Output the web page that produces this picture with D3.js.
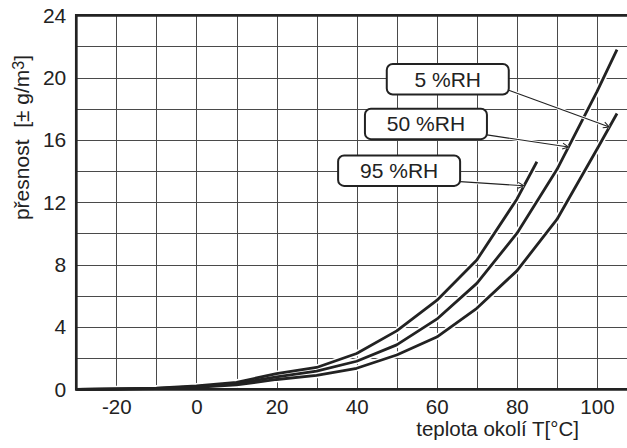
<!DOCTYPE html>
<html><head><meta charset="utf-8">
<script src="https://cdn.jsdelivr.net/npm/d3@7"></script>
<style>
html,body{margin:0;padding:0;background:#fff;}
svg{display:block;font-family:"Liberation Sans",Arial,sans-serif;}
</style></head><body>
<svg id="chart" width="627" height="448"></svg>
<script>
// ---- data ----
const temps95 = [-30,-20,-10,0,10,20,30,40,50,60,70,80,85];
const rh95    = [0,0.03,0.08,0.22,0.45,1.0,1.4,2.3,3.75,5.7,8.3,12.2,14.6];
const temps50 = [-30,-20,-10,0,10,20,30,40,50,60,70,80,90,100,105];
const rh50    = [0,0.02,0.06,0.17,0.36,0.8,1.17,1.8,2.85,4.5,6.8,10.0,14.1,19.1,21.8];
const temps5  = [-30,-20,-10,0,10,20,30,40,50,60,70,80,90,100,105];
const rh5     = [0,0.01,0.04,0.12,0.28,0.63,0.9,1.35,2.2,3.35,5.2,7.6,10.9,15.4,17.7];
const seriesNames = ["95 %RH","50 %RH","5 %RH"];
const xTicks = [-20,0,20,40,60,80,100];
const yTicks = [0,4,8,12,16,20,24];
const xGrid = [-20,-10,0,10,20,30,40,50,60,70,80,90,100];
const yGrid = [2,4,6,8,10,12,14,16,18,20,22];
// label box anchors (data coords) and pointer targets (temperature on curve)
const labelX = [50.6, 57.3, 62.75];
const labelY = [14.03, 17.03, 19.9];
const pointerX = [81.8, 92.9, 103.1];
const xTitle = "teplota okolí T[°C]";

// ---- layout ----
const svg = d3.select("#chart");
const x = d3.scaleLinear().domain([-30, 107.5]).range([76.3, 627]);
const y = d3.scaleLinear().domain([0, 24]).range([389.3, 15.3]);
const ink = "#222";

const series = [
  temps95.map((t,i)=>({t, v: rh95[i]})),
  temps50.map((t,i)=>({t, v: rh50[i]})),
  temps5.map((t,i)=>({t, v: rh5[i]}))
];

// grid
const grid = svg.append("g").attr("stroke", "#4a4a4a").attr("stroke-width", 1);
grid.selectAll("line.v").data(xGrid).join("line")
  .attr("x1", d=>Math.round(x(d))+0.5).attr("x2", d=>Math.round(x(d))+0.5)
  .attr("y1", y(24)).attr("y2", y(0));
grid.selectAll("line.h").data(yGrid).join("line")
  .attr("y1", d=>Math.round(y(d))+0.5).attr("y2", d=>Math.round(y(d))+0.5)
  .attr("x1", x(-30)).attr("x2", 627);

// curves
const line = d3.line().x(d=>x(d.t)).y(d=>y(d.v)).curve(d3.curveLinear);
svg.append("g").selectAll("path").data(series).join("path")
  .attr("d", line).attr("fill","none").attr("stroke","#fff").attr("stroke-width",6)
  .attr("stroke-linejoin","round");
svg.append("g").selectAll("path").data(series).join("path")
  .attr("d", line).attr("fill","none").attr("stroke",ink).attr("stroke-width",2.8)
  .attr("stroke-linejoin","round").attr("stroke-linecap","butt");

// interpolate on a series
function valueAt(s, t){
  for(let i=1;i<s.length;i++){
    if(t<=s[i].t){ const a=s[i-1], b=s[i]; return a.v + (b.v-a.v)*(t-a.t)/(b.t-a.t); }
  }
  return s[s.length-1].v;
}

// leader arrow marker
svg.append("defs").append("marker")
  .attr("id","arr").attr("viewBox","-7 -4 8 8").attr("refX",0).attr("refY",0)
  .attr("markerWidth",8).attr("markerHeight",8).attr("markerUnits","userSpaceOnUse")
  .attr("orient","auto")
  .append("path").attr("d","M-6,-3L0,0L-6,3").attr("fill","none").attr("stroke",ink).attr("stroke-width",1);

const boxW = 122, boxH = 30.5;
const ann = seriesNames.map((name,i)=>({
  name, cx: x(labelX[i]), cy: y(labelY[i]),
  tx: x(pointerX[i]), ty: y(valueAt(series[i], pointerX[i]))
}));

const lg = svg.append("g");
lg.selectAll("line.halo").data(ann).join("line")
  .attr("x1", d=>d.cx+boxW/2).attr("y1", d=>d.cy+11)
  .attr("x2", d=>d.tx).attr("y2", d=>d.ty)
  .attr("stroke","#fff").attr("stroke-width",3);
lg.selectAll("line.ld").data(ann).join("line")
  .attr("x1", d=>d.cx+boxW/2).attr("y1", d=>d.cy+11)
  .attr("x2", d=>d.tx).attr("y2", d=>d.ty)
  .attr("stroke",ink).attr("stroke-width",1.1).attr("marker-end","url(#arr)");

const boxes = svg.append("g").selectAll("g").data(ann).join("g")
  .attr("transform", d=>`translate(${d.cx},${d.cy})`);
boxes.append("rect").attr("x",-boxW/2).attr("y",-boxH/2).attr("width",boxW).attr("height",boxH)
  .attr("rx",6).attr("fill","#fff").attr("stroke",ink).attr("stroke-width",2);
boxes.append("text").attr("text-anchor","middle").attr("dy","0.36em")
  .attr("font-size",21).attr("fill",ink).text(d=>d.name);

// axes
const fmt = d => String(d);
const xAxis = d3.axisBottom(x).tickValues(xTicks).tickFormat(fmt).tickSize(0).tickPadding(10.5);
const gx = svg.append("g").attr("transform",`translate(0,${y(0)})`).call(xAxis);
gx.select(".domain").remove();
gx.selectAll("text").attr("font-size",20.5).attr("fill",ink).attr("font-family",null);

const yAxis = d3.axisLeft(y).tickValues(yTicks).tickFormat(fmt).tickSize(0).tickPadding(10);
const gy = svg.append("g").attr("transform",`translate(${x(-30)},0)`).call(yAxis);
gy.select(".domain").remove();
gy.selectAll("text").attr("font-size",21).attr("fill",ink).attr("font-family",null);

// frame lines
const frame = svg.append("g").attr("stroke",ink).attr("stroke-width",2.7).attr("fill","none");
frame.append("path").attr("d",`M627,${y(24)}H${x(-30)}V${y(0)}H627`).attr("stroke-linejoin","miter");

// titles
svg.append("text").attr("x",579).attr("y",436).attr("text-anchor","end")
  .attr("font-size",20.5).attr("fill",ink).text(xTitle);

const yt = svg.append("text").attr("transform","translate(28.5,137.5) rotate(-90)")
  .attr("text-anchor","middle").attr("font-size",21).attr("fill",ink)
  .style("white-space","pre");
yt.append("tspan").text("přesnost  [± g/m");
yt.append("tspan").attr("baseline-shift","30%").attr("font-size",16).text("3");
yt.append("tspan").text("]");
</script>
</body></html>
